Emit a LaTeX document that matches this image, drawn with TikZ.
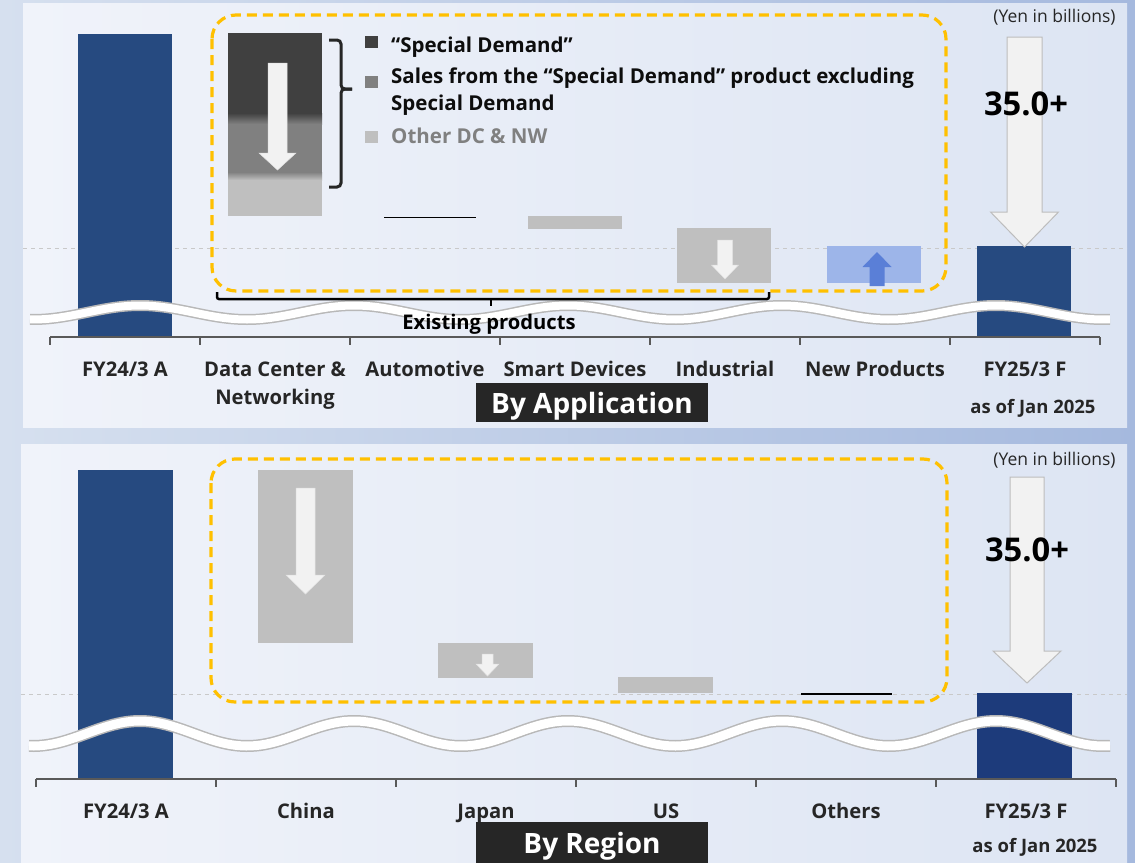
\documentclass[tikz,border=0pt]{standalone}
\usepackage{fontspec}
\setmainfont{Open Sans}
\definecolor{navy}{HTML}{264A80}
\definecolor{navyb}{HTML}{1D3B7B}
\definecolor{gd}{HTML}{404040}
\definecolor{gm}{HTML}{808080}
\definecolor{gl}{HTML}{BFBFBF}
\definecolor{arrfill}{HTML}{F2F2F2}
\definecolor{arrline}{HTML}{BDBDBD}
\definecolor{orng}{HTML}{FFC000}
\definecolor{ltblue}{HTML}{9DB5E9}
\definecolor{upblue}{HTML}{5A7FD7}
\definecolor{txt}{HTML}{262626}
\definecolor{axisc}{HTML}{595959}
\definecolor{refline}{HTML}{C9C9C9}
\definecolor{waveedge}{HTML}{B8B8B8}
\definecolor{outerL}{HTML}{D6E0EF}
\definecolor{outerR}{HTML}{A5B9DE}
\definecolor{panelL}{HTML}{F0F3FA}
\definecolor{panelR}{HTML}{DDE5F3}
% block arrow: centre x, shaft half width, head half width, tail y, head base y, tip y
\newcommand\blockarrow[7][]{%
  \path[#1] ({#2-#3},#5) -- ({#2+#3},#5) -- ({#2+#3},#6) -- ({#2+#4},#6)
    -- (#2,#7) -- ({#2-#4},#6) -- ({#2-#3},#6) -- cycle;}
\tikzset{
  cat/.style={font=\bfseries\fontsize{20.2}{24}\selectfont, text=txt, anchor=base, inner sep=0pt},
  note/.style={font=\bfseries\fontsize{18.5}{22}\selectfont, text=txt, anchor=base, inner sep=0pt},
  unit/.style={font=\fontsize{17.5}{21}\selectfont, text=txt, anchor=base, inner sep=0pt},
  big/.style={font=\bfseries\fontsize{32.7}{36}\selectfont, text=black, anchor=base, inner sep=0pt},
  legend/.style={font=\bfseries\fontsize{20.5}{24}\selectfont, text=black!95, anchor=base west, inner sep=0pt},
  tagbox/.style={fill=txt, inner sep=0pt, minimum width=232pt},
  tagtext/.style={font=\bfseries\fontsize{28}{32}\selectfont, text=white, anchor=base, inner sep=0pt},
  axisline/.style={axisc, line width=1.5pt},
  dashbox/.style={orng, line width=3.2pt, dash pattern=on 10pt off 6pt, rounded corners=24pt},
  refdash/.style={refline, line width=1pt, dash pattern=on 4pt off 4pt},
  bigarrow/.style={fill=arrfill, draw=arrline, line width=1pt},
  smallarrow/.style={fill=arrfill, draw=arrfill!85!gray, line width=0.5pt},
  bracketline/.style={black, line width=2.5pt},
  braceline/.style={black!85, line width=3pt, rounded corners=4pt},
}
\begin{document}
\begin{tikzpicture}[x=1pt, y=-1pt]
\useasboundingbox (0,0) rectangle (1135,862);
% outer frame and the two panels
\shade[left color=outerL, right color=outerR] (0,0) rectangle (1135,862);
\shade[left color=panelL, right color=panelR] (23,3) rectangle (1127,427);
\shade[left color=panelL, right color=panelR] (21,444) rectangle (1127,862);

%% ===================== By Application =====================
\draw[refdash] (23,248) -- (1127,248);
\fill[navy] (78,34) rectangle (172,337);
\fill[navy] (977,246) rectangle (1071,337);
% Data Center & Networking stack
\fill[gd] (228,33) rectangle (322,113);
\shade[top color=gd, bottom color=gm] (228,113) rectangle (322,124);
\fill[gm] (228,124) rectangle (322,172);
\shade[top color=gm, bottom color=gl] (228,172) rectangle (322,180);
\fill[gl] (228,180) rectangle (322,216);
\blockarrow[smallarrow]{277.5}{9.5}{18.5}{63}{153}{170}
% Automotive, Smart Devices, Industrial, New Products
\draw[black, line width=1.5pt] (384,217.5) -- (476,217.5);
\fill[gl] (528,216) rectangle (622,229);
\fill[gl] (677,228) rectangle (771,283);
\blockarrow[smallarrow]{725}{7.5}{13.5}{240}{265}{279}
\fill[ltblue] (827,246) rectangle (921,283);
\blockarrow[fill=upblue]{877}{7.5}{14.5}{286}{267}{252}
% forecast arrow
\blockarrow[bigarrow]{1024.5}{17.5}{34}{37}{212}{247}
% dashed frame around existing products
\draw[dashbox] (212,15) rectangle (946,291);
% legend with brace
\draw[braceline] (329,40) -- (341,40) -- (341,89) -- (352,89);
\draw[braceline] (352,89) -- (341,89) -- (341,187) -- (329,187);
\fill[gd] (365,36) rectangle (378,48);
\fill[gm] (365,76) rectangle (378,88);
\fill[gl] (365,131) rectangle (378,143);
\node[legend] (lg1) at (391,52) {“Special Demand”};
\node[legend] (lg2) at (391,83) {Sales from the “Special Demand” product excluding};
\node[legend] (lg2b) at (391,110) {Special Demand};
\node[legend, text=gm] (lg3) at (391,143) {Other DC \& NW};
% axis break wave
\draw[waveedge, line width=11pt] plot[domain=30:1110, samples=220] (\x, {312.5 - 7*cos((\x-140)/214*360)});
\draw[white, line width=8pt] plot[domain=30:1110, samples=220] (\x, {312.5 - 7*cos((\x-140)/214*360)});
% existing products bracket
\draw[bracketline, rounded corners=2pt] (217,292) -- (217,299) -- (769,299) -- (769,292);
\draw[bracketline] (491,299) -- (491,306);
\node[cat, text=black] (ex) at (489,329) {Existing products};
% axis
\draw[axisline] (50,337) -- (1100,337);
\foreach \t in {50,200,...,1100} \draw[axisline] (\t,337) -- (\t,345);
\node[cat] (a1) at (125,376) {FY24/3 A};
\node[cat] (a2) at (275,376) {Data Center \&};
\node[cat] (a2b) at (275,404) {Networking};
\node[cat] (a3) at (425,376) {Automotive};
\node[cat] (a4) at (575,376) {Smart Devices};
\node[cat] (a5) at (725,376) {Industrial};
\node[cat] (a6) at (875,376) {New Products};
\node[cat] (a7) at (1025,376) {FY25/3 F};
\node[note] (a8) at (1033,413) {as of Jan 2025};
\node[unit] (u1) at (1054.5,22) {(Yen in billions)};
\node[big] (v1) at (1026,115) {35.0+};
\node[tagbox, anchor=north, minimum height=39pt] (t1) at (592,383) {};
\node[tagtext] (t1txt) at (592,413) {By Application};

%% ===================== By Region =====================
\draw[refdash] (21,694) -- (1127,694);
\fill[navy] (78,470) rectangle (173,779);
\fill[navyb] (977,693) rectangle (1072,779);
\fill[gl] (258,470) rectangle (353,643);
\blockarrow[smallarrow]{305.5}{9.5}{19.5}{488}{575}{594}
\fill[gl] (438,643) rectangle (533,678);
\blockarrow[smallarrow]{487.5}{5.5}{11.5}{654}{664}{676}
\fill[gl] (618,677) rectangle (713,693);
\draw[black, line width=1.5pt] (801,694) -- (892,694);
\blockarrow[bigarrow]{1027}{17}{34}{477}{651}{683}
\draw[dashbox] (211,459) rectangle (947,702);
% axis break wave
\draw[waveedge, line width=12pt] plot[domain=29:1110, samples=220] (\x, {733.5 - 12.5*cos((\x-140)/214*360)});
\draw[white, line width=9pt] plot[domain=29:1110, samples=220] (\x, {733.5 - 12.5*cos((\x-140)/214*360)});
% axis
\draw[axisline] (36,779) -- (1116,779);
\foreach \t in {36,216,...,1116} \draw[axisline] (\t,779) -- (\t,787);
\node[cat] (b1) at (126,818) {FY24/3 A};
\node[cat] (b2) at (306,818) {China};
\node[cat] (b3) at (486,818) {Japan};
\node[cat] (b4) at (666,818) {US};
\node[cat] (b5) at (846,818) {Others};
\node[cat] (b6) at (1026,818) {FY25/3 F};
\node[note] (b7) at (1035,852) {as of Jan 2025};
\node[unit] (u2) at (1054.5,465) {(Yen in billions)};
\node[big] (v2) at (1027,561) {35.0+};
\node[tagbox, anchor=north, minimum height=45pt] (t2) at (592,822) {};
\node[tagtext] (t2txt) at (592,853) {By Region};
\end{tikzpicture}
\end{document}
